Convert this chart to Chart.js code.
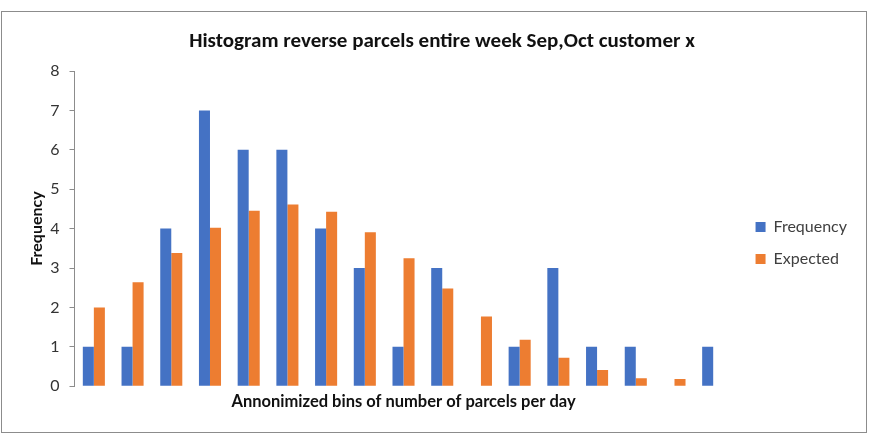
<!DOCTYPE html>
<html>
<head>
<meta charset="utf-8">
<script src="https://cdn.jsdelivr.net/npm/chart.js@4"></script>
<style>
  html, body { margin: 0; padding: 0; background: #fff; }
  #frame {
    position: absolute; left: 1px; top: 11px;
    width: 866px; height: 422px;
    border: 1.5px solid #8c8c8c; box-sizing: border-box;
  }
</style>
</head>
<body>
<div id="frame"><canvas id="myChart"></canvas></div>
<script>
// bins are anonymised, so no tick labels on x
const bins = ['1', '2', '3', '4', '5', '6', '7', '8', '9', '10', '11', '12', '13', '14', '15', '16', '17'];
const frequency = [1, 1, 4, 7, 6, 6, 4, 3, 1, 3, 0, 1, 3, 1, 1, 0, 1];
const expected = [2.0, 2.64, 3.38, 4.02, 4.45, 4.61, 4.43, 3.91, 3.25, 2.48, 1.77, 1.18, 0.72, 0.41, 0.2, 0.18, 0];
const yTicks = [0, 1, 2, 3, 4, 5, 6, 7, 8];

const blue = '#4472C4';
const orange = '#ED7D31';

const data = {
    labels: bins,
    datasets: [
        { label: 'Frequency', data: frequency, backgroundColor: blue },
        { label: 'Expected', data: expected, backgroundColor: orange }
    ]
};

const config = {
    type: 'bar',
    data: data,
    options: {
        responsive: true,
        maintainAspectRatio: false,
        animation: false,
        categoryPercentage: 0.57,
        barPercentage: 1,
        layout: { padding: { left: 25, right: 9, top: 0, bottom: 16.5 } },
        plugins: {
            title: {
                display: true,
                text: 'Histogram reverse parcels entire week Sep,Oct customer x',
                color: '#111',
                font: { family: 'Carlito, "Liberation Sans Narrow", Lato', size: 21, weight: '600' },
                padding: { top: 17, bottom: 16.8 }
            },
            legend: {
                position: 'right',
                title: { display: true, text: '', padding: { top: 44, bottom: 0 } },
                labels: {
                    boxWidth: 10, boxHeight: 10, padding: 16,
                    color: '#404040',
                    font: { family: 'Lato', size: 16 }
                }
            },
            tooltip: { enabled: false }
        },
        scales: {
            x: {
                grid: { display: false },
                border: { display: false },
                ticks: { display: false },
                title: {
                    display: true,
                    text: 'Annonimized bins of number of parcels per day',
                    color: '#111',
                    font: { family: 'Lato', size: 16.5, weight: 'bold' },
                    padding: { top: -2.5 }
                }
            },
            y: {
                min: 0,
                max: 8,
                afterBuildTicks: (axis) => { axis.ticks = yTicks.map(v => ({ value: v })); },
                afterFit: (scale) => { scale.width = 47.5; },
                grid: { drawOnChartArea: false, drawTicks: true, tickLength: 5, color: '#8c8c8c' },
                border: { color: '#8c8c8c' },
                ticks: {
                    color: '#333',
                    padding: 10,
                    font: { family: 'Lato', size: 16 }
                },
                title: {
                    display: true,
                    text: 'Frequency',
                    color: '#111',
                    font: { family: 'Lato', size: 16, weight: 'bold' },
                    padding: { top: 0, bottom: 0 }
                }
            },
            // empty right-hand axis, only keeps a gap before the legend
            gap: {
                position: 'right',
                grid: { display: false },
                border: { display: false },
                ticks: { display: false },
                afterFit: (scale) => { scale.width = 7; }
            }
        }
    }
};

const myChart = new Chart(document.getElementById('myChart'), config);
</script>
</body>
</html>
